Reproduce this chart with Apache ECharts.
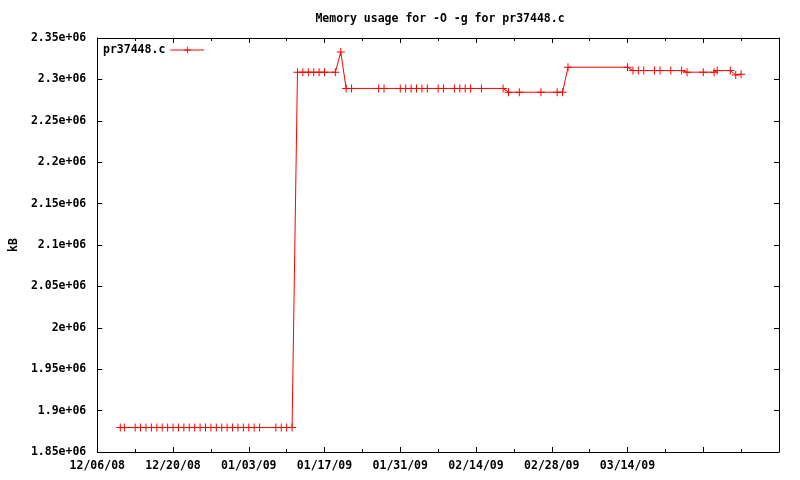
<!DOCTYPE html>
<html><head><meta charset="utf-8">
<script src="https://cdn.jsdelivr.net/npm/echarts@6/dist/echarts.min.js"></script>
<style>html,body{margin:0;padding:0;background:#fff}#c{width:800px;height:480px}</style>
</head><body><div id="c"></div>
<script>
const axisStart = '2008-12-06 00:00';
const axisEnd = '2009-04-11 00:00';
const tickDays = 14;
const lastLabelledTick = '2009-03-14 00:00';
const seriesName = 'pr37448.c';
const titleText = 'Memory usage for -O -g for pr37448.c';
const yName = 'kB';
const yMin = 1850000, yMax = 2350000, yStep = 50000;

const dates = [
  '2008-12-10 06:00','2008-12-11 00:00','2008-12-13 00:00','2008-12-14 00:00','2008-12-15 00:00',
  '2008-12-16 00:00','2008-12-17 00:00','2008-12-18 00:00','2008-12-19 00:00','2008-12-20 00:00',
  '2008-12-21 00:00','2008-12-22 00:00','2008-12-23 00:00','2008-12-24 00:00','2008-12-25 00:00',
  '2008-12-26 00:00','2008-12-27 00:00','2008-12-28 00:00','2008-12-29 00:00','2008-12-30 00:00',
  '2008-12-31 00:00','2009-01-01 00:00','2009-01-02 00:00','2009-01-03 00:00','2009-01-04 00:00',
  '2009-01-05 00:00','2009-01-08 00:00','2009-01-09 00:00','2009-01-10 00:00','2009-01-11 00:00',
  '2009-01-12 00:00','2009-01-13 00:00','2009-01-14 00:00','2009-01-15 00:00','2009-01-16 00:00',
  '2009-01-17 00:00','2009-01-19 00:00','2009-01-20 00:00','2009-01-21 00:00','2009-01-22 00:00',
  '2009-01-27 00:00','2009-01-28 00:00','2009-01-31 00:00','2009-02-01 00:00','2009-02-02 00:00',
  '2009-02-03 00:00','2009-02-04 00:00','2009-02-05 00:00','2009-02-07 00:00','2009-02-08 00:00',
  '2009-02-10 00:00','2009-02-11 00:00','2009-02-12 00:00','2009-02-13 00:00','2009-02-15 00:00',
  '2009-02-19 00:00','2009-02-20 00:00','2009-02-22 00:00','2009-02-26 00:00','2009-03-01 00:00',
  '2009-03-02 00:00','2009-03-03 00:00','2009-03-14 00:00','2009-03-15 00:00','2009-03-16 00:00',
  '2009-03-17 00:00','2009-03-19 00:00','2009-03-20 00:00','2009-03-22 00:00','2009-03-24 00:00',
  '2009-03-25 00:00','2009-03-28 00:00','2009-03-30 00:00','2009-03-30 14:00','2009-04-02 00:00',
  '2009-04-03 00:00','2009-04-04 00:00'
];
const memoryKB = [
  1879500,1879500,1879500,1879500,1879500,
  1879500,1879500,1879500,1879500,1879500,
  1879500,1879500,1879500,1879500,1879500,
  1879500,1879500,1879500,1879500,1879500,
  1879500,1879500,1879500,1879500,1879500,
  1879500,1879500,1879500,1879500,1879500,
  2308700,2308700,2308700,2308700,2308700,
  2308700,2308700,2333000,2289100,2289100,
  2289100,2289100,2289100,2289100,2289100,
  2289100,2289100,2289100,2289100,2289100,
  2289100,2289100,2289100,2289100,2289100,
  2289100,2284500,2284500,2284500,2284500,
  2284500,2314700,2314700,2310600,2310600,
  2310600,2310600,2310600,2310600,2310600,
  2308700,2308700,2308700,2310600,2310600,
  2305400,2306300
];

function toMs(s){
  const [d,t] = s.split(' ');
  const [Y,M,D] = d.split('-').map(Number);
  const [h,m] = (t||'00:00').split(':').map(Number);
  return Date.UTC(Y,M-1,D,h,m);
}
const DAY = 86400000;
const t0 = toMs(axisStart);
const toDay = s => (toMs(s)-t0)/DAY;
const xMax = toDay(axisEnd);
const lastLabelDay = toDay(lastLabelledTick);
const points = dates.map((d,i)=>[toDay(d), memoryKB[i]]);

const pad = n => String(n).padStart(2,'0');
function fmtDay(v){
  if (v > lastLabelDay + 0.01) return '';
  const dt = new Date(t0 + v*DAY);
  return pad(dt.getUTCMonth()+1)+'/'+pad(dt.getUTCDate())+'/'+pad(dt.getUTCFullYear()%100);
}
function fmtY(v){
  return parseFloat((v/1e6).toFixed(2)) + 'e+06';
}

const FONT = 'DejaVu Sans Mono';
const FW = 'bold';
const black = '#000';
function xAx(pos, labels){
  return {type:'value', min:0, max:xMax, interval:tickDays, position:pos,
    axisLine:{show:true, onZero:false, lineStyle:{color:black,width:1}},
    axisTick:{show:true, inside:true, length:5, lineStyle:{color:black,width:1}},
    minorTick:{show:true, splitNumber:2, length:3, lineStyle:{color:black,width:1}},
    splitLine:{show:false},
    axisLabel:{show:labels, formatter:fmtDay, color:black, fontFamily:FONT, fontWeight:FW, fontSize:11.5, margin:8}
  };
}
function yAx(pos, labels){
  return {type:'value', min:yMin, max:yMax, interval:yStep, position:pos,
    name: labels ? yName : '', nameLocation:'middle', nameRotate:90, nameGap:76,
    nameTextStyle:{color:black, fontFamily:FONT, fontWeight:FW, fontSize:11.5},
    axisLine:{show:true, onZero:false, lineStyle:{color:black,width:1}},
    axisTick:{show:true, inside:true, length:5, lineStyle:{color:black,width:1}},
    splitLine:{show:false},
    axisLabel:{show:labels, formatter:fmtY, color:black, fontFamily:FONT, fontWeight:FW, fontSize:11.5, margin:11}
  };
}

const chart = echarts.init(document.getElementById('c'), null, {renderer:'canvas'});
chart.setOption({
  animation:false,
  backgroundColor:'#fff',
  title:{text:titleText, left:435, textAlign:'center', top:8,
    textStyle:{fontFamily:FONT, fontSize:11.5, fontWeight:FW, color:black}},
  legend:{left:98, top:39, align:'right', itemWidth:34, itemHeight:8,
    lineStyle:{width:1}, 
    textStyle:{fontFamily:FONT, fontWeight:FW, fontSize:11.5, color:black}, data:[seriesName]},
  grid:{left:96, right:21, top:38, bottom:28},
  xAxis:[xAx('bottom', true), xAx('top', false)],
  yAxis:[yAx('left', true), yAx('right', false)],
  series:[{
    name:seriesName, type:'line', data:points,
    symbol:'path://M0,3.5H8V4.5H0Z M3.5,0H4.5V8H3.5Z', symbolSize:8, showSymbol:true,
    lineStyle:{color:'#ff0000', width:1},
    itemStyle:{color:'#ff0000'}
  }]
});
</script>
</body></html>
